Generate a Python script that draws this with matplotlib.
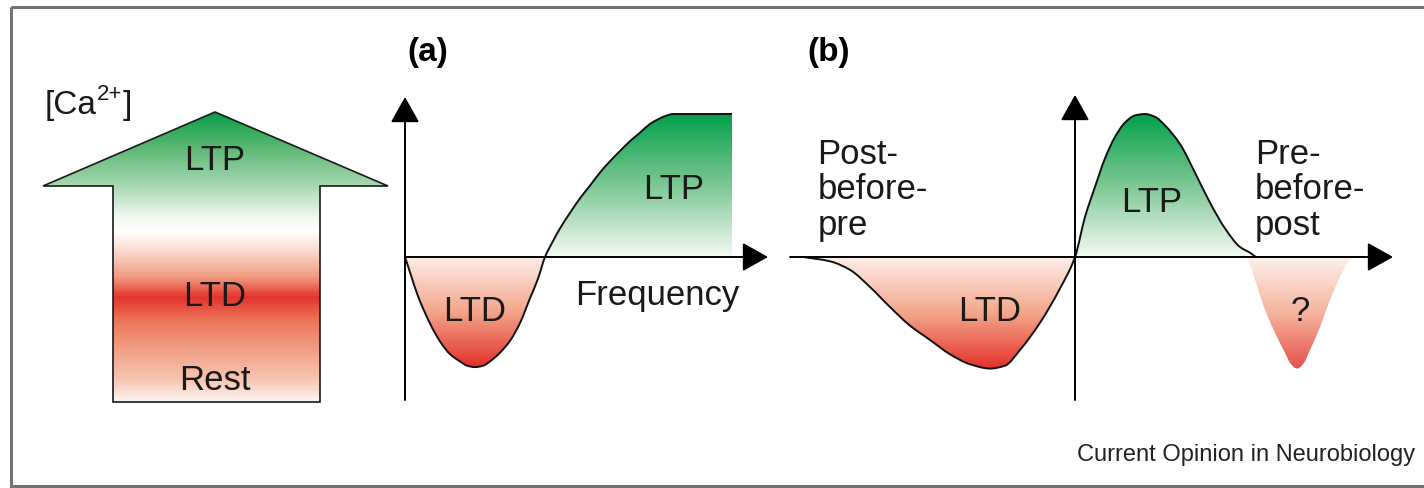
import numpy as np
import matplotlib.pyplot as plt
from matplotlib.colors import LinearSegmentedColormap
from matplotlib.patches import Polygon, Rectangle, PathPatch
from matplotlib.path import Path

plt.rcParams['font.family'] = ['Liberation Sans', 'DejaVu Sans']

W, H = 1424, 488

# (a) change in synaptic weight vs. stimulation frequency (a.u., plateau = 1)
freq = [0, 4.6, 10.7, 13.8, 16.8, 19, 21.4, 23.9, 26, 29, 32, 35.2, 38.2,
        40.7, 42.8, 45, 47.4, 50.5, 53.5, 56.6, 59.6, 62.7, 65.7, 68.8, 71.9,
        74.9, 78, 79.5, 82, 100]
dw_freq = [0, -0.31, -0.59, -0.68, -0.73, -0.76, -0.77, -0.76, -0.73,
           -0.67, -0.59, -0.46, -0.29, -0.15, 0, 0.1, 0.2, 0.31, 0.41, 0.5,
           0.59, 0.67, 0.74, 0.81, 0.87, 0.93, 0.97, 0.985, 1.0, 1.0]

# (b) spike-timing window: dt = t_post - t_pre (ms)
dt = [-54.4, -49, -45, -41, -37, -33, -29, -25, -21, -17, -14, -11, -7, -3, 0,
      2, 4, 6, 8, 10, 12, 14, 16, 18, 21, 24, 27, 30, 33, 35, 36.4, 58]
dw_dt = [0, -0.03, -0.09, -0.21, -0.35, -0.48, -0.58, -0.68, -0.75, -0.78,
         -0.76, -0.65, -0.46, -0.22, 0, 0.28, 0.49, 0.69, 0.84, 0.94, 0.99,
         1.0, 0.98, 0.92, 0.79, 0.59, 0.38, 0.2, 0.07, 0.03, 0, 0]

# uncertain depression lobe at long pre-before-post intervals
dt_q = [34.4, 36, 38, 40, 42, 43.2, 44.4, 45.6, 47, 49, 51, 53, 55, 56.4]
dw_q = [0, -0.16, -0.37, -0.53, -0.67, -0.75, -0.78, -0.75, -0.65, -0.49,
        -0.30, -0.14, -0.02, 0]

green = LinearSegmentedColormap.from_list(
    'ltp', [(0, '#02a04a'), (0.5, '#7cc792'), (1, '#f4faf4')])
red = LinearSegmentedColormap.from_list(
    'ltd', [(0, '#fdeee8'), (0.5, '#f3a68b'), (1, '#e2302a')])
ca = LinearSegmentedColormap.from_list(
    'ca', [(0, '#0b9d48'), (0.12, '#5bb874'), (0.255, '#a9d9b2'),
           (0.36, '#eff8f0'), (0.41, '#ffffff'), (0.47, '#fbe0d6'),
           (0.57, '#f19a7f'), (0.64, '#e3332d'), (0.72, '#ec7559'),
           (0.82, '#f19f84'), (0.93, '#f7c7b4'), (1, '#fdf4f0')])


def px_axes(fig, left, right, top, bottom):
    ax = fig.add_axes([left / W, 1 - bottom / H, (right - left) / W,
                       (bottom - top) / H])
    ax.set_axis_off()
    ax.patch.set_alpha(0)
    return ax


def pchip_slopes(x, y):
    # shape-preserving tangents so the bezier curve never overshoots
    x, y = np.asarray(x, float), np.asarray(y, float)
    h = np.diff(x)
    d = np.diff(y) / h
    m = np.zeros_like(y)
    m[0], m[-1] = d[0], d[-1]
    for k in range(1, len(x) - 1):
        if d[k - 1] * d[k] > 0:
            w1 = 2 * h[k] + h[k - 1]
            w2 = h[k] + 2 * h[k - 1]
            m[k] = (w1 + w2) / (w1 / d[k - 1] + w2 / d[k])
    return m


def curve_path(x, y, m, i0, i1, close=False):
    verts = [(x[i0], y[i0])]
    codes = [Path.MOVETO]
    for i in range(i0, i1):
        h = x[i + 1] - x[i]
        verts += [(x[i] + h / 3, y[i] + m[i] * h / 3),
                  (x[i + 1] - h / 3, y[i + 1] - m[i + 1] * h / 3),
                  (x[i + 1], y[i + 1])]
        codes += [Path.CURVE4] * 3
    if close:
        verts += [(x[i1], 0), (x[i0], 0), (x[i0], 0)]
        codes += [Path.LINETO, Path.LINETO, Path.CLOSEPOLY]
    return Path(verts, codes)


def gradient_region(ax, x, y, m, i0, i1, cmap, top, bottom, alpha=1.0):
    patch = PathPatch(curve_path(x, y, m, i0, i1, close=True),
                      facecolor='none', edgecolor='none')
    ax.add_patch(patch)
    grad = np.linspace(0, 1, 256).reshape(-1, 1)
    im = ax.imshow(grad, cmap=cmap, origin='upper', aspect='auto',
                   extent=(x[i0], x[i1], bottom, top), alpha=alpha, zorder=1)
    im.set_clip_path(patch)


def axis_arrow(ax, start, tip):
    ax.annotate('', xy=tip, xytext=start,
                arrowprops=dict(arrowstyle='-|>,head_length=1.6,head_width=0.9',
                                mutation_scale=10, lw=1.4, color='black',
                                shrinkA=0, shrinkB=0), zorder=3)


fig = plt.figure(figsize=(W / 100, H / 100), dpi=100)

# background layer in pixel units
bg = fig.add_axes([0, 0, 1, 1])
bg.set_axis_off()
bg.add_patch(Rectangle((11, 7), W, 479, facecolor='none',
                       edgecolor='#737373', lw=2.2))

arrow_xy = [(215, 112), (388, 186), (320, 186), (320, 402), (113, 402),
            (113, 186), (43, 186)]
arrow = Polygon(arrow_xy, closed=True, facecolor='none', edgecolor='#1a1a1a',
                lw=1.2, zorder=3)
bg.add_patch(arrow)
im = bg.imshow(np.linspace(0, 1, 300).reshape(-1, 1), cmap=ca, origin='upper',
               aspect='auto', extent=(43, 388, 402, 112), zorder=2)
im.set_clip_path(arrow)
bg.set_xlim(0, W)
bg.set_ylim(H, 0)

big = 25
ink = '#1a1a1a'
ca_txt = bg.text(45, 114, '[Ca', fontsize=24, va='baseline', color=ink)
sup = bg.annotate('2+', xy=(1, 0.5), xycoords=ca_txt, fontsize=16,
                  va='bottom', ha='left', color=ink)
bg.annotate(']', xy=(1, 0), xycoords=(sup, ca_txt), fontsize=24,
            va='bottom', ha='left', color=ink)
bg.text(215, 160, 'LTP', fontsize=big, ha='center', va='center', color=ink)
bg.text(215, 297, 'LTD', fontsize=big, ha='center', va='center', color=ink)
bg.text(215, 380, 'Rest', fontsize=big, ha='center', va='center', color=ink)
bg.text(428, 52, '(a)', fontsize=24, fontweight='bold', ha='center', va='center')
bg.text(829, 52, '(b)', fontsize=24, fontweight='bold', ha='center', va='center')
bg.text(1415, 455, 'Current Opinion in Neurobiology', fontsize=17,
        ha='right', va='center', color='#222222')

# pixel scales shared by both panels
ZERO_Y, PX_PER_DW = 257, 143
PX_PER_HZ, PX_PER_MS = 3.27, 5.0

# panel (a)
x0a = 405
axa = px_axes(fig, 395, 785, 85, 410)
fa = np.array(freq, float)
ya = np.array(dw_freq, float)
ma = pchip_slopes(fa, ya)
cross_a = int(np.flatnonzero(ya[1:] == 0)[0]) + 1
gradient_region(axa, fa, ya, ma, 0, cross_a, red, 0, ya.min())
gradient_region(axa, fa, ya, ma, cross_a, len(fa) - 1, green, ya.max(), 0)
axa.add_patch(PathPatch(curve_path(fa, ya, ma, 0, len(fa) - 1),
                        facecolor='none', edgecolor='#111111', lw=1.4, zorder=2))
axis_arrow(axa, (0, (ZERO_Y - 400) / PX_PER_DW), (0, (ZERO_Y - 97) / PX_PER_DW))
axis_arrow(axa, (0, 0), ((768 - x0a) / PX_PER_HZ, 0))
axa.set_xlim((395 - x0a) / PX_PER_HZ, (785 - x0a) / PX_PER_HZ)
axa.set_ylim((ZERO_Y - 410) / PX_PER_DW, (ZERO_Y - 85) / PX_PER_DW)
axa.text(82, 0.47, 'LTP', fontsize=big, ha='center', va='center', color=ink)
axa.text(21.4, -0.38, 'LTD', fontsize=big, ha='center', va='center', color=ink)
axa.text(77, -0.27, 'Frequency', fontsize=big, ha='center', va='center', color=ink)

# panel (b)
x0b = 1075
axb = px_axes(fig, 780, 1410, 85, 410)
tb = np.array(dt, float)
yb = np.array(dw_dt, float)
mb = pchip_slopes(tb, yb)
zeros_b = np.flatnonzero(yb == 0)
c0, c1 = int(zeros_b[1]), int(zeros_b[2])
tq = np.array(dt_q, float)
yq = np.array(dw_q, float)
gradient_region(axb, tq, yq, pchip_slopes(tq, yq), 0, len(tq) - 1, red, 0,
                yq.min(), alpha=0.85)
gradient_region(axb, tb, yb, mb, 0, c0, red, 0, yb.min())
gradient_region(axb, tb, yb, mb, c0, c1, green, yb.max(), 0)
axb.add_patch(PathPatch(curve_path(tb, yb, mb, 0, len(tb) - 1),
                        facecolor='none', edgecolor='#111111', lw=1.4, zorder=2))
axis_arrow(axb, (0, (ZERO_Y - 400) / PX_PER_DW), (0, (ZERO_Y - 95) / PX_PER_DW))
axis_arrow(axb, ((790 - x0b) / PX_PER_MS, 0), ((1393 - x0b) / PX_PER_MS, 0))
axb.set_xlim((780 - x0b) / PX_PER_MS, (1410 - x0b) / PX_PER_MS)
axb.set_ylim((ZERO_Y - 410) / PX_PER_DW, (ZERO_Y - 85) / PX_PER_DW)
axb.text(-17, -0.38, 'LTD', fontsize=big, ha='center', va='center', color=ink)
axb.text(15.4, 0.38, 'LTP', fontsize=big, ha='center', va='center', color=ink)
axb.text(45, -0.38, '?', fontsize=big, ha='center', va='center', color=ink)
axb.text(-51.5, 0.47, 'Post-\nbefore-\npre', fontsize=big, ha='left',
         va='center', linespacing=1.1, color=ink)
axb.text(36, 0.47, 'Pre-\nbefore-\npost', fontsize=big, ha='left',
         va='center', linespacing=1.1, color=ink)

plt.savefig('out.png', dpi=100)
